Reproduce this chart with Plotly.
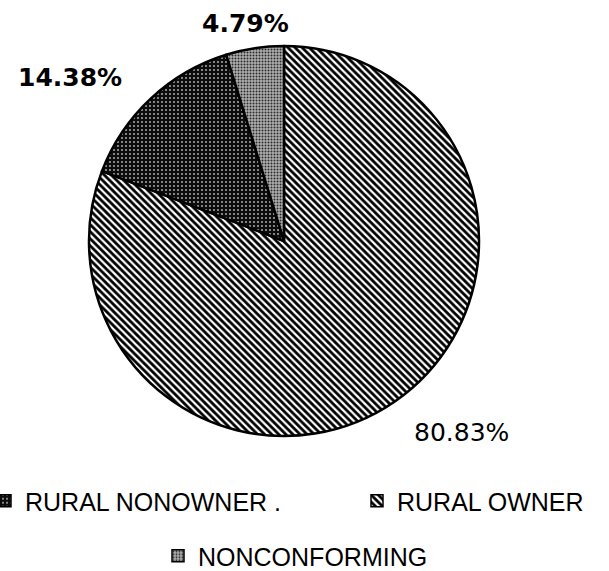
import plotly.graph_objects as go

# ---- data ----
legend_labels = ["RURAL NONOWNER .", "RURAL OWNER", "NONCONFORMING"]
legend_values = [14.38, 80.83, 4.79]

pie_labels = ["RURAL OWNER", "RURAL NONOWNER .", "NONCONFORMING"]   # clockwise from 12 o'clock
pie_values = [80.83, 14.38, 4.79]
pct_labels = ["80.83%", "14.38%", "4.79%"]

# ---- styles ----
styles = {
    "RURAL NONOWNER .": dict(shape=".", fgcolor="#bdbdbd", bgcolor="#0c0c0c", size=4, solidity=0.16),
    "RURAL OWNER": dict(shape="\\", fgcolor="#000000", bgcolor="#ffffff", size=5, solidity=0.55),
    "NONCONFORMING": dict(shape=".", fgcolor="#2a2a2a", bgcolor="#b0b0b0", size=3, solidity=0.35),
}

W, H = 609, 571
cx, cy, r = 284, 241, 195

fig = go.Figure()

# legend carriers (tiny pies hidden under the main pie centre), one per legend
legend_ids = ["legend", "legend2", "legend3"]
for i, lab in enumerate(legend_labels):
    s = styles[lab]
    fig.add_trace(go.Pie(
        labels=[lab], values=[legend_values[i]], sort=False,
        marker=dict(colors=[s["bgcolor"]],
                    pattern=dict(shape=[s["shape"]], fgcolor=[s["fgcolor"]], bgcolor=[s["bgcolor"]],
                                 size=[s["size"]], solidity=[s["solidity"]]),
                    line=dict(color="black", width=1.5)),
        textinfo="none", hoverinfo="skip",
        domain=dict(x=[cx / W - 0.0005, cx / W + 0.0005], y=[1 - cy / H - 0.0005, 1 - cy / H + 0.0005]),
        legend=legend_ids[i], showlegend=True,
    ))

fig.add_trace(go.Pie(
    labels=pie_labels, values=pie_values, sort=False, direction="clockwise", rotation=0,
    marker=dict(colors=[styles[l]["bgcolor"] for l in pie_labels],
                pattern=dict(shape=[styles[l]["shape"] for l in pie_labels],
                             fgcolor=[styles[l]["fgcolor"] for l in pie_labels],
                             bgcolor=[styles[l]["bgcolor"] for l in pie_labels],
                             size=[styles[l]["size"] for l in pie_labels],
                             solidity=[styles[l]["solidity"] for l in pie_labels]),
                line=dict(color="black", width=2.5)),
    textinfo="none", showlegend=False, hoverinfo="label+percent",
    domain=dict(x=[(cx - r) / W, (cx + r) / W], y=[1 - (cy + r) / H, 1 - (cy - r) / H]),
))

lab_font = dict(family="DejaVu Sans", size=25, color="black")
ann_pos = {"14.38%": (70, 77, "bold"), "80.83%": (461, 432, "normal"), "4.79%": (245, 24, "bold")}
annotations = []
for t in pct_labels:
    x, y, wgt = ann_pos[t]
    annotations.append(dict(text=t, x=x / W, y=1 - y / H, xref="paper", yref="paper",
                            showarrow=False, xanchor="center", yanchor="middle",
                            font=dict(lab_font, weight=wgt)))

leg_font = dict(family="Liberation Sans, Arial", size=25, color="black")


def leg(x_px, y_px):
    return dict(orientation="h", x=x_px / W, y=1 - y_px / H, xanchor="left", yanchor="middle",
                font=leg_font, bgcolor="rgba(0,0,0,0)", borderwidth=0)


fig.update_layout(
    width=W, height=H,
    margin=dict(l=0, r=0, t=0, b=0, pad=0, autoexpand=False),
    paper_bgcolor="white", plot_bgcolor="white",
    annotations=annotations,
    legend=leg(-15, 501),
    legend2=leg(357, 501),
    legend3=leg(158, 556),
)

fig.write_html("out.html", config={"displayModeBar": False},
               post_script="document.body.style.margin='0';")
